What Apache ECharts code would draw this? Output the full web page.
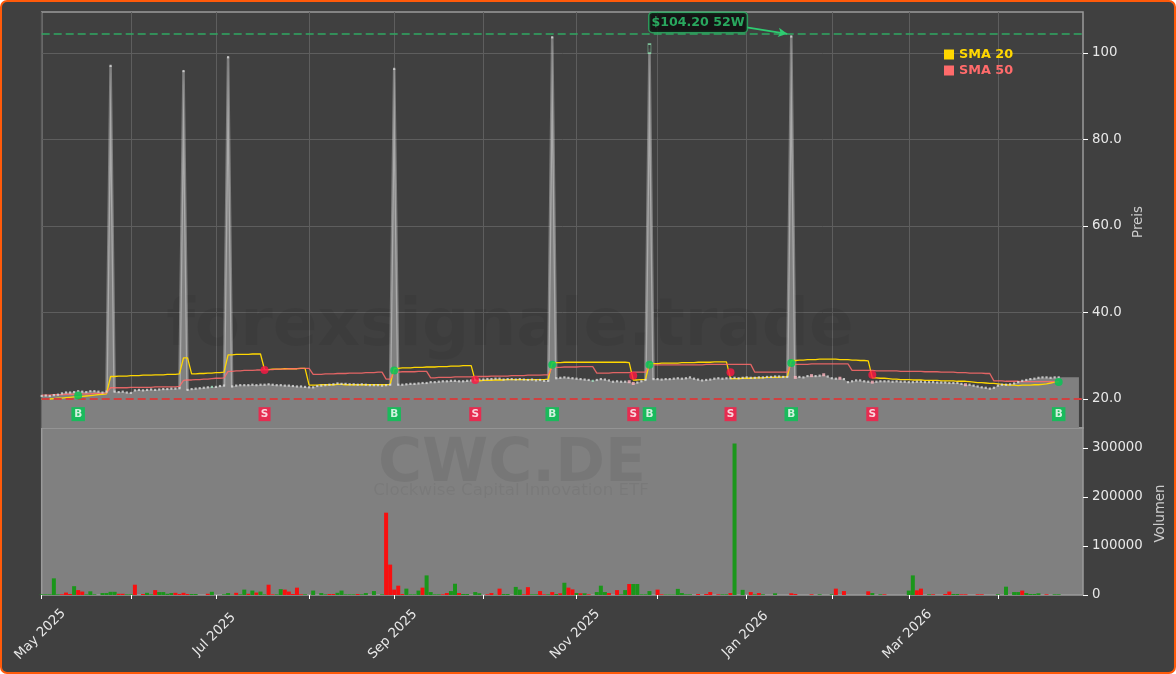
<!DOCTYPE html>
<html><head><meta charset="utf-8">
<style>html,body{margin:0;padding:0;background:#fff}
#frame{position:absolute;left:0;top:0;width:1176px;height:674px;box-sizing:border-box;border:2px solid #ff5a0a;border-radius:7px;background:#404040;pointer-events:none}
#c{position:absolute;left:0;top:0;width:1176px;height:674px}</style>
<script src="https://cdn.jsdelivr.net/npm/echarts@6/dist/echarts.min.js"></script>
</head><body><div id="frame"></div><div id="c"></div>
<script>
const monthStarts=[0,22,43,66,87,109,132,152,174,195,214,236];
const monthLabels=['May 2025','','Jul 2025','','Sep 2025','','Nov 2025','','Jan 2026','','Mar 2026',''];
const priceTicks=[20,40,60,80,100];
const volumeTicks=[0,100000,200000,300000];
const spikeDays=[17,35,46,87,126,150,185];
const closes=[
20.7,20.8,20.7,20.9,21.0,21.3,21.5,21.5,21.6,21.8,
21.7,21.6,21.8,21.8,21.7,21.5,21.7,97.0,21.7,21.6,
21.7,21.5,21.4,22.0,22.1,22.0,22.1,22.2,22.1,22.2,
22.3,22.3,22.4,22.4,22.5,95.8,22.1,22.3,22.4,22.5,
22.6,22.7,22.8,22.8,23.0,23.1,99.0,22.9,23.1,23.2,
23.2,23.2,23.3,23.2,23.3,23.3,23.4,23.3,23.2,23.2,
23.1,23.1,23.0,22.9,22.9,22.8,22.7,22.7,23.0,23.1,
23.2,23.3,23.4,23.6,23.5,23.5,23.4,23.4,23.3,23.4,
23.3,23.2,23.2,23.2,23.1,23.2,23.3,96.3,23.3,23.3,
23.4,23.5,23.5,23.6,23.7,23.7,23.9,23.9,24.0,24.1,
24.1,24.2,24.2,24.1,24.1,24.2,24.3,24.4,24.5,24.5,
24.6,24.6,24.7,24.7,24.5,24.6,24.6,24.5,24.6,24.5,
24.4,24.5,24.3,24.4,24.2,24.2,103.6,24.8,24.9,25.0,
24.9,24.8,24.7,24.6,24.5,24.4,24.2,24.4,24.6,24.5,
24.3,24.0,24.1,24.0,24.0,24.0,23.6,23.8,24.1,24.4,
101.0,24.6,24.6,24.5,24.6,24.6,24.7,24.8,24.7,24.8,
25.0,24.7,24.5,24.3,24.4,24.5,24.7,24.8,24.7,24.8,
24.8,24.9,24.8,24.9,25.0,24.9,24.9,25.0,25.0,25.1,
25.1,25.2,25.2,25.1,25.1,103.8,25.0,25.1,25.0,25.3,
25.4,25.3,25.4,25.6,25.2,24.8,24.7,24.8,24.6,23.9,
24.1,24.3,24.3,24.1,24.0,23.9,24.0,24.1,24.1,24.1,
24.0,24.1,24.0,24.0,23.9,23.9,24.0,24.0,23.9,23.9,
23.9,23.8,23.8,23.8,23.7,23.7,23.7,23.5,23.3,23.3,
23.1,22.9,22.7,22.6,22.4,22.6,23.1,23.3,23.3,23.4,
23.6,23.9,24.2,24.4,24.6,24.7,24.9,25.0,25.0,24.9,
25.0,25.0];
const fillTail=[25.05,25.05,25.05,25.05,25.05];
const sma20=[
19.9,20.0,20.0,20.1,20.2,20.2,20.3,20.4,20.5,20.5,20.6,20.7,20.8,20.9,21.0,21.1,21.2,
25.2,25.2,25.3,25.3,25.3,25.4,25.4,25.4,25.5,25.5,25.5,25.6,25.6,25.6,25.7,25.7,25.7,25.8,
29.5,29.5,
25.8,25.8,25.9,25.9,26.0,26.0,26.1,26.1,26.2,
30.2,30.2,30.3,30.3,30.3,30.3,30.4,30.4,30.4,
26.8,26.8,26.9,26.9,26.9,27.0,27.0,27.0,27.0,27.1,27.1,
23.2,23.2,23.2,23.3,23.3,23.3,23.3,23.4,23.4,23.3,23.3,23.3,23.3,23.3,23.3,23.3,23.3,23.3,23.3,23.3,23.4,
27.1,27.1,27.2,27.2,27.2,27.3,27.3,27.3,27.4,27.4,27.4,27.5,27.5,27.5,27.6,27.6,27.6,27.7,27.7,27.7,
24.2,24.2,24.3,24.3,24.3,24.4,24.4,24.4,24.5,24.5,24.5,24.5,24.5,24.5,24.5,24.5,24.5,24.5,24.6,
28.4,28.4,28.4,28.5,28.5,28.5,28.5,28.5,28.5,28.5,28.5,28.5,28.5,28.5,28.5,28.5,28.5,28.5,28.5,28.4,
24.4,24.4,24.5,24.5,
28.2,28.2,28.2,28.3,28.3,28.3,28.3,28.3,28.4,28.4,28.4,28.4,28.5,28.5,28.5,28.5,28.6,28.6,28.6,28.6,
24.7,24.7,24.7,24.8,24.8,24.8,24.9,24.9,24.9,25.0,25.0,25.0,25.0,25.1,25.1,
28.9,28.9,29.0,29.0,29.1,29.1,29.1,29.2,29.2,29.2,29.2,29.2,29.1,29.1,29.1,29.0,29.0,28.9,28.9,28.8,
24.9,24.9,24.8,24.8,24.7,24.6,24.6,24.5,24.5,24.5,24.4,24.4,24.4,24.3,24.3,24.3,24.3,24.2,24.2,24.2,24.2,24.1,24.1,24.1,24.0,23.9,23.8,23.8,23.7,23.6,23.6,23.5,23.4,23.3,23.2,23.2,23.1,23.2,23.2,23.2,23.3,23.3,23.4,23.5,23.7,23.9,24.0];
const sma50=[
20.9,20.9,20.9,21.0,21.0,21.0,21.1,21.1,21.1,21.2,21.2,21.2,21.2,21.3,21.3,21.3,21.4,
22.6,22.6,22.6,22.6,22.6,22.7,22.7,22.7,22.7,22.7,22.7,22.8,22.8,22.8,22.8,22.8,22.8,22.9,
24.3,24.4,24.4,24.5,24.5,24.6,24.6,24.7,24.8,24.8,24.9,
26.4,26.4,26.5,26.5,26.6,26.6,26.6,26.7,26.7,26.8,26.8,26.8,26.9,26.9,26.9,27.0,27.0,27.0,27.1,27.1,27.1,
25.7,25.7,25.7,25.8,25.8,25.8,25.9,25.9,25.9,26.0,26.0,26.0,26.0,26.1,26.1,26.1,26.2,26.2,
24.6,24.6,
26.2,26.2,26.3,26.3,26.3,26.3,26.4,26.4,26.4,
24.9,24.9,25.0,25.0,25.0,25.0,25.1,25.1,25.1,25.1,25.1,25.2,25.2,25.2,25.2,25.3,25.3,25.3,25.3,25.3,25.4,25.4,25.4,25.4,25.5,25.5,25.5,25.5,25.6,25.6,
27.3,27.3,27.3,27.4,27.4,27.4,27.4,27.5,27.5,27.5,27.5,
26.0,26.0,26.0,26.0,26.1,26.1,26.1,26.1,26.1,26.2,26.2,26.2,26.2,
27.9,27.9,27.9,27.9,27.9,27.9,27.9,27.9,27.9,27.9,27.9,27.9,27.9,27.9,28.0,28.0,28.0,28.0,28.0,28.0,28.0,28.0,28.0,28.0,28.0,28.0,
26.2,26.2,26.2,26.2,26.2,26.2,26.2,26.2,26.2,
28.0,28.0,28.0,28.0,28.0,28.1,28.1,28.1,28.1,28.1,28.1,28.1,28.1,28.1,28.1,
26.6,26.6,26.6,26.6,26.6,26.6,26.5,26.5,26.5,26.5,26.5,26.5,26.4,26.4,26.4,26.4,26.4,26.4,26.3,26.3,26.3,26.3,26.2,26.2,26.2,26.2,26.1,26.1,26.1,26.0,26.0,26.0,26.0,25.9,25.9,
24.2,24.2,24.2,24.1,24.1,24.1,24.1,24.0,24.0,24.0,24.0,24.0,24.0,24.0,24.0,24.0,24.0];
const volumes=[
1400,1400,1400,34000,1400,1500,5000,2000,18000,10000,
7000,1400,7500,1400,0,4000,4000,6500,6500,2500,
2500,1400,1400,21000,0,2000,4500,1400,10000,6000,
6000,2500,4000,4500,2000,4500,2000,2000,2000,0,
0,2500,6500,0,0,1400,4000,800,4500,1400,
11000,2500,9000,5000,7000,1400,21000,1400,1400,12000,
11000,7000,2000,15000,1400,1400,0,9000,0,4000,
1400,2000,2000,4500,9000,1400,1400,1400,2000,1400,
4000,0,8000,0,1400,168000,62000,11000,19000,2000,
13000,1400,1400,9000,15000,40000,6000,1400,1400,1400,
4000,8000,23000,4000,2000,2000,0,6000,3500,0,
1400,4000,800,13000,2000,2000,0,16500,11000,1400,
16000,1400,1400,8000,1400,1400,6000,2000,3500,25000,
15000,11500,4000,3500,3500,1400,0,6000,19000,6000,
4000,0,10000,1400,10000,22500,22500,22500,1400,1400,
8000,0,11000,1400,1000,1000,1000,12500,4000,1400,
1400,0,2000,0,2000,6000,0,1400,1400,1400,
4000,309000,0,10500,0,6000,1400,4000,1400,0,
0,3500,0,0,0,3500,2000,0,0,0,
1400,0,1400,0,0,1400,13000,0,8000,0,
0,0,0,0,7500,4000,0,1400,1400,0,
0,0,0,0,9000,40000,9500,13000,0,1400,
1400,0,0,2000,7000,2000,2000,1400,1400,0,
0,1400,1400,0,0,0,1400,0,17000,0,
6000,6000,9000,4000,2000,2000,3500,0,1400,0,
1400,1400];
const downDays=[5,6,7,9,10,19,20,23,25,28,33,34,35,36,41,48,51,53,56,57,60,61,62,63,64,71,72,78,85,86,87,88,89,94,99,100,103,110,111,113,119,120,123,124,126,128,130,131,133,135,140,142,145,152,153,162,164,165,167,170,175,177,185,186,190,196,198,204,208,216,217,220,223,224,227,228,231,232,242,248];
const pinkDays=[145,190,193,197,228,146,186,205];
const mintDays=[42,136,150];
const buyIdx=[9,87,126,150,185,251];
const buyPrice=[20.8,26.6,27.9,27.9,28.3,23.95];
const sellIdx=[55,107,146,170,205];
const sellPrice=[26.7,24.4,25.4,26.2,25.6];
const badgeLevel=16.5;
const high52=104.4, low52=20.1;
const noteText='$104.20 52W';

const n=258;
const categories=Array.from({length:n},(_,i)=>{const k=monthStarts.indexOf(i);return k>=0?(monthLabels[k]||' '):''+i;});
const isMonth=i=>monthStarts.indexOf(i)>=0;
const fill=closes.concat(fillTail);
const spikeOutline=closes.map((v,i)=>spikeDays.some(d=>Math.abs(d-i)<=1)?v:null);
const down=new Set(downDays),pink=new Set(pinkDays),mint=new Set(mintDays);
const txt='#e8e8e8', fam='"DejaVu Sans"';
const ch=echarts.init(document.getElementById('c'),null,{renderer:'canvas',width:1176,height:674});
ch.setOption({
 animation:false,backgroundColor:'transparent',
 textStyle:{fontFamily:fam},
 grid:[
  {left:41.7,right:93,top:12,height:416,show:true,backgroundColor:'#404040',borderColor:'#9a9a9a',borderWidth:1.5},
  {left:41.7,right:93,top:428,height:167,show:true,backgroundColor:'#808080',borderColor:'#9a9a9a',borderWidth:1.5}
 ],
 xAxis:[
  {type:'category',gridIndex:0,data:categories,boundaryGap:false,axisLine:{show:false},axisTick:{show:false},axisLabel:{show:false},
   splitLine:{show:true,interval:i=>isMonth(i),lineStyle:{color:'#5e5e5e',width:1}}},
  {type:'category',gridIndex:1,data:categories,boundaryGap:false,axisLine:{show:false},
   axisTick:{show:true,interval:i=>isMonth(i),length:4,lineStyle:{color:'#ffffff',width:1}},
   axisLabel:{show:true,interval:i=>isMonth(i),rotate:45,align:'center',verticalAlign:'middle',margin:38,color:txt,fontSize:13.3,fontFamily:fam,padding:[0,4,0,0],
     formatter:v=>/^\d+$/.test(v)?'':v},
   splitLine:{show:false}}
 ],
 yAxis:[
  {type:'value',gridIndex:0,position:'right',min:13.3,max:109.45,name:'Preis',nameLocation:'middle',nameRotate:90,nameGap:44,
   nameTextStyle:{color:'#cccccc',fontSize:13.3,fontFamily:fam,padding:[0,4,0,0]},
   axisLine:{show:false},axisTick:{show:true,length:5,customValues:priceTicks,lineStyle:{color:'#ffffff'}},
   axisLabel:{show:true,customValues:priceTicks,margin:9,color:txt,fontSize:13.3,fontFamily:fam,padding:[4,0,0,0],formatter:v=>v===100?'100':v.toFixed(1)},
   splitLine:{show:true,lineStyle:{color:'#5e5e5e',width:1}}},
  {type:'value',gridIndex:1,position:'right',min:0,max:340800,name:'Volumen',nameLocation:'middle',nameRotate:90,nameGap:65,
   nameTextStyle:{color:'#cccccc',fontSize:13.3,fontFamily:fam,padding:[0,4,0,0]},
   axisLine:{show:false},axisTick:{show:true,length:5,customValues:volumeTicks,lineStyle:{color:'#ffffff'}},
   axisLabel:{show:true,customValues:volumeTicks,margin:9,color:txt,fontSize:13.3,fontFamily:fam,padding:[4,0,0,0],formatter:v=>String(v)},
   splitLine:{show:false}}
 ],
 legend:{show:true,orient:'vertical',left:944,top:48,itemWidth:10,itemHeight:10,itemGap:3,padding:0,icon:'rect',selectedMode:false,
  data:[{name:'SMA 20',textStyle:{color:'#FFD700',fontWeight:'bold',fontSize:12.8,fontFamily:fam}},
        {name:'SMA 50',textStyle:{color:'#FF6B6B',fontWeight:'bold',fontSize:12.8,fontFamily:fam}}]},
 graphic:[
  {type:'text',z:1,style:{text:'forexsignale.trade',x:510,y:328,align:'center',verticalAlign:'middle',fontFamily:fam,fontWeight:'bold',fontSize:66,fill:'rgba(0,0,0,0.06)'}},
  {type:'text',z:1,style:{text:'CWC.DE',x:512,y:465,align:'center',verticalAlign:'middle',fontFamily:fam,fontWeight:'bold',fontSize:60,fill:'rgba(0,0,0,0.07)'}},
  {type:'text',z:1,style:{text:'Clockwise Capital Innovation ETF',x:511,y:491,align:'center',verticalAlign:'middle',fontFamily:fam,fontSize:16.7,fill:'rgba(0,0,0,0.05)'}}
 ],
 series:[
  {type:'line',name:'fill',xAxisIndex:0,yAxisIndex:0,data:fill,showSymbol:false,symbol:'none',z:2,silent:true,lineStyle:{width:0},areaStyle:{color:'#808080',opacity:1,origin:'start'},connectNulls:false},
  {type:'line',name:'spikes',xAxisIndex:0,yAxisIndex:0,data:spikeOutline,showSymbol:false,symbol:'none',z:3,silent:true,connectNulls:false,lineStyle:{color:'rgba(255,255,255,0.32)',width:2.6,join:'miter'},
   markLine:{silent:true,symbol:'none',label:{show:false},animation:false,data:[
    {yAxis:high52,lineStyle:{color:'#2fa862',type:[8,4],width:1.6}},
    {yAxis:low52,lineStyle:{color:'#d04040',type:[8,4],width:2}}]}},
  {type:'line',name:'SMA 20',xAxisIndex:0,yAxisIndex:0,data:sma20,showSymbol:false,symbol:'none',z:4,silent:true,itemStyle:{color:'#FFD700'},lineStyle:{color:'#FFD700',width:1.3}},
  {type:'line',name:'SMA 50',xAxisIndex:0,yAxisIndex:0,data:sma50,showSymbol:false,symbol:'none',z:4,silent:true,itemStyle:{color:'#FF6B6B'},lineStyle:{color:'#FF6B6B',width:1.3,opacity:0.85}},
  {type:'scatter',name:'bars',xAxisIndex:0,yAxisIndex:0,z:5,silent:true,symbol:'rect',
   data:closes.map((v,i)=>({value:[i,v],symbolSize:i===150?[3,9]:(pink.has(i)?[3,3]:[2.2,2.2]),
     itemStyle:i===150?{color:'#3a3a3a',borderColor:'#8fe0b0',borderWidth:1}:(pink.has(i)?{color:'#ffb6c1'}:(mint.has(i)?{color:'#a8e8c8'}:{color:'#dcdcdc'}))}))},
  {type:'scatter',name:'buy',xAxisIndex:0,yAxisIndex:0,z:6,silent:true,symbol:'circle',symbolSize:8,itemStyle:{color:'#00C853'},data:buyIdx.map((x,k)=>[x,buyPrice[k]])},
  {type:'scatter',name:'sell',xAxisIndex:0,yAxisIndex:0,z:6,silent:true,symbol:'circle',symbolSize:8,itemStyle:{color:'#FF1744'},data:sellIdx.map((x,k)=>[x,sellPrice[k]])},
  {type:'scatter',name:'buyBadge',xAxisIndex:0,yAxisIndex:0,z:6,silent:true,symbol:'rect',symbolSize:[13.5,14],itemStyle:{color:'#00C853'},data:buyIdx.map(x=>[x,badgeLevel]),
   label:{show:true,position:'inside',formatter:'B',color:'#fff',fontWeight:'bold',fontSize:10.5,fontFamily:fam}},
  {type:'scatter',name:'sellBadge',xAxisIndex:0,yAxisIndex:0,z:6,silent:true,symbol:'rect',symbolSize:[12,14],itemStyle:{color:'#FF1744'},data:sellIdx.map(x=>[x,badgeLevel]),
   label:{show:true,position:'inside',formatter:'S',color:'#fff',fontWeight:'bold',fontSize:10.5,fontFamily:fam}},
  {type:'scatter',name:'note',xAxisIndex:0,yAxisIndex:0,z:7,silent:true,symbolSize:1,itemStyle:{color:'rgba(0,0,0,0)'},data:[[161.7,107.05]],
   label:{show:true,position:'inside',formatter:noteText,color:'#2ecc71',fontWeight:'bold',fontSize:12.6,fontFamily:fam,backgroundColor:'#0a0a0a',borderColor:'#27ae60',borderWidth:1.5,borderRadius:3,padding:[3,2,3,2]},
   markLine:{silent:true,symbol:['none','arrow'],symbolSize:[7,9],label:{show:false},animation:false,lineStyle:{color:'#2ecc71',width:1.6,type:'solid'},
    data:[[{coord:[174,105.9]},{coord:[184,104.4]}]]}},
  {type:'bar',name:'volume',xAxisIndex:1,yAxisIndex:1,barWidth:4,silent:true,z:3,
   data:volumes.map((v,i)=>({value:v,itemStyle:{color:down.has(i)?'#f81010':'#1a961a'}}))}
 ]
});
</script></body></html>
